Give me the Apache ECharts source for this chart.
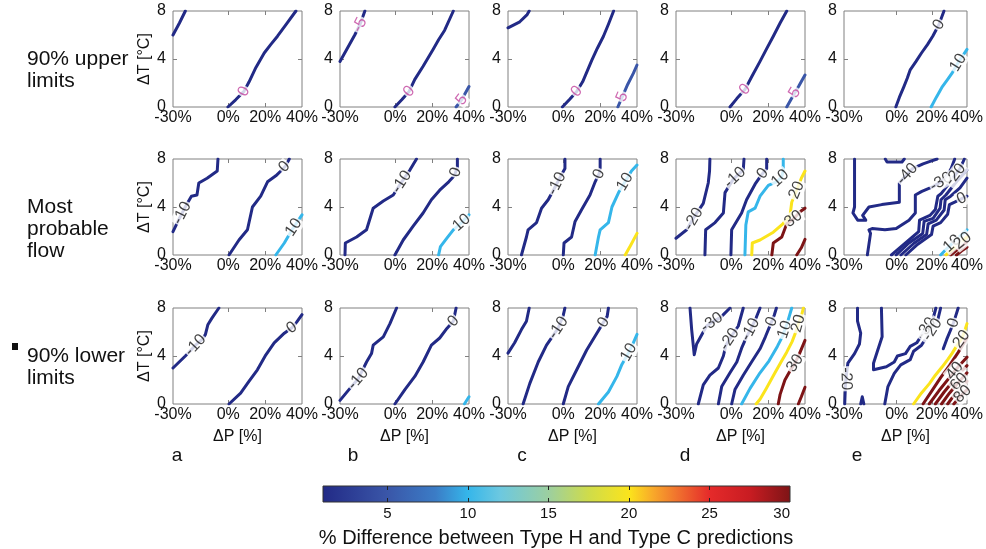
<!DOCTYPE html>
<html><head><meta charset="utf-8">
<script src="https://cdn.jsdelivr.net/npm/echarts@6/dist/echarts.min.js"></script>
<style>html,body{margin:0;padding:0;background:#fff}#c{width:986px;height:549px}</style>
</head><body><div id="c"></div>
<script>
// ---------- data ----------
const dPTicks = [-30, 0, 20, 40];
const dTTicks = [0, 4, 8];
const rowNames = ['90% upper\nlimits', 'Most\nprobable\nflow', '90% lower\nlimits'];
const colLetters = ['a', 'b', 'c', 'd', 'e'];
const cbTicks = [5, 10, 15, 20, 25, 30];
const cbRange = [1, 30];
const cbTitle = '% Difference between Type H and Type C predictions';

// contour lines: [level, [[dP, dT], ...]] ; labels: [text, lineIndex, dP, dT, rotateOverride]
// Row 1: 90% upper limits
const ua = [
  [-5, [[-30,6.0],[-26.5,7.0],[-23.3,8]]],
  [0, [[-0.2,0],[4,0.6],[8.5,1.3],[11.3,2.1],[15,3.3],[19.5,4.5],[23,5.2],[26.7,5.9],[31.5,6.9],[36.7,8]]]
];
const ua_lab = [['0',1,8.5,1.3]];
const ub = [
  [-5, [[-30,3.8],[-26,4.9],[-22,6.0],[-19.2,6.85],[-16.5,8]]],
  [0, [[-0.2,0],[3.5,0.6],[7.5,1.3],[10.6,2.3],[15.1,3.4],[20.5,4.8],[23.5,5.6],[26.8,6.4],[31.5,8]]],
  [5, [[33,0],[36,0.6],[40,1.7]]]
];
const ub_lab = [['-5',0,-19.2,6.85],['0',1,7.5,1.3],['5',2,36,0.6]];
const uc = [
  [-5, [[-30,6.6],[-23.6,7.1],[-19.6,7.7],[-18.5,8]]],
  [0, [[-0.5,0],[3.5,0.65],[7.3,1.3],[10.5,2.1],[15.5,3.9],[18.5,4.9],[21.8,5.9],[24.5,6.9],[27.3,8]]],
  [5, [[29.6,0],[31.6,0.7],[35,1.9],[38,2.8],[40,3.5]]]
];
const uc_lab = [['0',1,7.3,1.3],['5',2,32,0.85]];
const ud = [
  [0, [[-0.7,0],[3,0.7],[7.4,1.45],[11,2.5],[15.6,3.8],[19,4.8],[22.8,5.9],[26.5,7.0],[30.1,8]]],
  [5, [[30.1,0],[33,0.8],[36.5,1.7],[40,2.67]]]
];
const ud_lab = [['0',0,7.4,1.45],['5',1,34.5,1.2]];
const ue = [
  [0, [[-0.5,0],[1.5,0.8],[4.1,1.7],[6,2.4],[7.7,3.1],[11,3.8],[14.1,4.5],[17.5,5.2],[20.5,5.9],[24,6.85],[26.9,8]]],
  [10, [[19.6,0],[22.5,0.8],[26,1.7],[29,2.3],[31.4,2.8],[35,3.7],[40,4.8]]]
];
const ue_lab = [['0',0,24,6.85],['10',1,35,3.7]];

// Row 2: most probable flow
const ma = [
  [-10, [[-30,1.95],[-27,2.9],[-23,4.1],[-20,4.9],[-17,5.0],[-16,6.0],[-11.5,6.4],[-6,7.0],[-5.6,8]]],
  [0, [[0.4,0],[5.8,1.25],[10.4,2.1],[13.1,4.0],[17.6,4.9],[21.3,6.1],[25.8,6.6],[28.5,7.0],[31,7.4],[33.1,8]]],
  [10, [[25.8,0],[30.4,1.0],[35,2.2],[40,3.35]]]
];
const ma_lab = [['-10',0,-25,3.5],['0',1,30.5,7.35],['10',2,35.5,2.3]];
const mb = [
  [-10, [[-27.3,0],[-27.1,1.0],[-21,1.5],[-15.6,2.1],[-12,3.9],[-6.5,4.5],[-1.1,5.0],[3.5,6.1],[8,7.1],[11.5,8]]],
  [0, [[-0.2,0],[4.3,1.25],[9.7,2.4],[15.1,3.5],[19.6,4.6],[24.1,5.4],[29,6.1],[32,6.6],[33.7,7.3],[33.7,8]]],
  [10, [[23.5,0],[24.5,0.7],[28,1.4],[31.5,2.1],[36,2.7],[40,3.35]]]
];
const mb_lab = [['-10',0,3.5,6.1],['0',1,32.8,6.9],['10',2,36,2.7]];
const mc = [
  [-10, [[-22.7,0],[-20,1.5],[-19.1,2.1],[-14.5,2.7],[-11.8,3.9],[-8.2,4.6],[-5,5.5],[-2,6.4],[0.9,7.2],[0.9,8]]],
  [0, [[0,0],[0.4,1.0],[4.5,1.5],[6.4,2.8],[10,3.8],[14.5,5.0],[17.3,6.1],[19.5,6.8],[20,7.3],[20,8]]],
  [10, [[17.3,0],[19.1,1.5],[20,2.1],[24.5,2.7],[26.4,4.0],[30,5.2],[33.5,6.1],[37,7.0],[40,7.5]]],
  [20, [[33.6,0],[36.5,0.8],[40,1.8]]]
];
const mc_lab = [['-10',0,-3.5,5.95],['0',1,19.3,6.75],['10',2,33.5,6.1]];
const md = [
  [-20, [[-30,1.4],[-24.2,2.1],[-20,3.2],[-15.2,4.3],[-12.5,6.0],[-11.8,7.0],[-11.6,8]]],
  [-10, [[-14.3,0],[-13.9,2.1],[-8.8,2.7],[-4.3,3.5],[-3.4,5.2],[1,6.3],[6.5,7.1],[6.9,8]]],
  [0, [[-0.2,0],[0.2,2.1],[5.6,3.5],[8.3,4.6],[12.9,5.9],[16,6.6],[19.2,7.2],[19.2,8]]],
  [10, [[7.4,0],[7.9,2.5],[9.2,3.6],[12.9,3.9],[15.6,4.9],[20.1,5.8],[24.5,6.1],[27.4,6.5],[28.2,7.1],[28.2,8]]],
  [20, [[11.1,0],[11.4,1.0],[15.6,1.25],[22.8,1.9],[28,2.6],[31.9,3.3],[32.8,4.4],[35.5,5.4],[38,6.4],[40,7.0]]],
  [30, [[22,0],[22.8,1.0],[27.4,1.5],[30.1,2.6],[33.7,3.0],[37.3,3.6],[40,3.9]]],
  [40, [[35.5,0],[38,0.6],[40,1.3]]]
];
const md_lab = [['-20',0,-20.5,3.0],['-10',1,2,6.45],['0',2,17,6.8],['10',3,26.5,6.4],['20',4,35.5,5.4],['30',5,33.7,3.0]];
const me = [
  [-40, [[-24,8],[-24,4.0],[-24.9,3.5],[-22.2,2.9],[-17.6,2.9],[-19.4,3.3],[-15.8,4.0],[-8.5,4.2],[1.5,4.4],[1.5,6.0],[6,6.75],[9,7.2],[15,7.6],[19,7.8],[23,8]]],
  [-50, [[-6.5,8],[-5.5,7.75],[3,7.75],[4.3,8]]],
  [-30, [[-16.7,0],[-14.9,1.8],[-15.8,2.1],[-14,2.2],[-6.7,2.1],[-0.3,2.2],[7,2.9],[10.6,3.5],[10.6,5.0],[14.3,5.3],[20.7,5.7],[25.2,6.1],[28,6.5],[31,7.2],[33,8]]],
  [-20, [[-3,0],[5,1.0],[12.5,1.95],[13,2.9],[18.9,3.3],[22,3.8],[23.4,4.9],[25.2,5.1],[31,6.2],[36,7.2],[38.5,8]]],
  [-10, [[-0.3,0],[7,1.0],[14.8,1.8],[15.6,2.8],[20.7,3.05],[24.7,3.9],[25.2,4.6],[28,5.0],[34,6.1],[40,7.1]]],
  [-5, [[2.4,0],[10,1.0],[17,1.7],[17.9,2.6],[22.5,2.9],[27,3.75],[27.6,4.6],[30.7,4.9],[36,5.6],[40,6.4]]],
  [0, [[5.2,0],[12,0.9],[19.8,1.7],[20.7,2.4],[25,2.7],[29,3.4],[30,4.2],[33,4.4],[40,4.9]]],
  [10, [[25,0],[29,0.6],[34,1.3],[40,2.1]]],
  [20, [[28,0],[32,0.5],[36,1.0],[40,1.5]]],
  [30, [[30.7,0],[35,0.5],[40,1.1]]],
  [40, [[34,0],[37,0.35],[40,0.65]]]
];
const me_lab = [['-40',0,6,6.75],['-30',2,25.2,6.1],['-20',3,33.5,6.7],['0',6,37,4.69],['10',7,31.5,0.95],['20',8,37.5,1.19]];

// Row 3: 90% lower limits
const la = [
  [-10, [[-30,3.0],[-23.3,4.0],[-17.8,4.9],[-14,5.4],[-12.4,5.8],[-11.1,6.6],[-8.7,7.2],[-5.1,8]]],
  [0, [[0.4,0],[6.7,0.9],[11.3,1.9],[15.8,2.85],[20.4,4.1],[24.9,5.1],[30.4,5.9],[34.5,6.35],[37,6.8],[40,7.45]]]
];
const la_lab = [['-10',0,-17.8,4.9],['0',1,34.5,6.35]];
const lb = [
  [-10, [[-30,0.3],[-24.6,1.3],[-20.1,2.1],[-15.6,3.5],[-12.9,4.2],[-12,4.9],[-6.5,5.6],[-2.9,6.7],[0.7,8]]],
  [0, [[-0.2,0],[5.2,1.2],[10.6,2.3],[15.1,3.5],[19.6,4.9],[24.1,5.5],[28,6.3],[31.5,6.9],[33,8]]],
  [10, [[37.5,0],[40,0.6]]]
];
const lb_lab = [['-10',0,-20.1,2.1],['0',1,31.5,6.9]];
const lc = [
  [-20, [[-30,4.24],[-26.4,5.1],[-22.7,6.2],[-20,6.9],[-18.5,8]]],
  [-10, [[-21.8,0],[-18.2,1.7],[-13.6,3.5],[-9.1,4.9],[-6,5.6],[-2.7,6.35],[0,7.4],[0.9,8]]],
  [0, [[0,0],[2.7,1.45],[7.3,2.85],[12.7,4.5],[18.2,5.9],[21.8,6.8],[23.8,7.3],[24.5,8]]],
  [10, [[19.1,0],[24.5,1.0],[29.1,2.3],[31.8,3.3],[35.5,4.3],[38,5.1],[40,5.8]]]
];
const lc_lab = [['-10',1,-2.7,6.35],['0',2,21.8,6.8],['10',3,35.5,4.3]];
const ld = [
  [-30, [[-22.4,8],[-21.5,6.2],[-20.1,4.1],[-18.8,5.0],[-13.4,6.5],[-10.6,6.8],[-6,7.2],[-4.3,7.45],[-0.7,8]]],
  [-20, [[-17.9,0],[-15.2,1.6],[-11.6,2.4],[-7,3.0],[-4.3,4.0],[-2.9,4.9],[-1,5.4],[3.8,6.5],[6.5,8]]],
  [-10, [[-7,0],[-5.2,1.45],[-0.7,2.6],[3,3.5],[5.6,4.65],[8.3,5.6],[10.4,6.2],[13,7.0],[15.6,8]]],
  [0, [[0.2,0],[2,1.2],[6.5,2.4],[11,3.5],[15.6,4.6],[18.5,5.6],[21.9,6.86],[23.3,7.4],[24.5,8]]],
  [10, [[5.6,0],[10.2,1.3],[15.6,2.6],[20.5,3.6],[25,4.8],[28,5.7],[29.1,6.2],[30.5,6.8],[32.8,8]]],
  [20, [[13.5,0],[15.6,0.4],[19,1.3],[23.7,2.6],[27,3.5],[30,4.3],[33,5.2],[35.5,6.2],[36.4,6.7],[38,7.3],[39.1,8]]],
  [30, [[25.5,0],[26.5,0.8],[29.1,2.0],[32,2.8],[34.6,3.4],[37,4.2],[40,5.3]]],
  [40, [[36.4,0],[38,0.6],[40,1.4]]]
];
const ld_lab = [['-30',0,-10.6,6.8],['-20',1,-1,5.4],['-10',2,10.4,6.2],['0',3,21.9,6.86],['10',4,29.1,6.2],['20',5,36.4,6.7],['30',6,34.6,3.4]];
const le = [
  [-20, [[-22.3,8],[-22.3,6.9],[-20.5,5.9],[-21.2,5.0],[-24,4.2],[-27.8,3.4],[-28.5,2.6],[-29.2,1.5],[-29.6,0]]],
  [-30, [[-20.5,0],[-19.6,0.6],[-18.7,0]]],
  [-30, [[-8.7,8],[-8.3,5.6],[-11,4.4],[-13.2,3.4],[-13.2,2.85],[-5.9,3.1],[-1.4,3.5],[0.4,4.0],[5,4.2],[7.7,4.8],[11.4,5.1],[15,5.9],[16.8,6.3],[20.5,7.0],[22.3,8]]],
  [-20, [[-6.8,0],[-5,1.45],[-1.4,2.55],[2.3,3.26],[7.7,3.7],[9.6,4.4],[14.1,4.9],[16.8,5.5],[19.6,6.05],[23.2,6.9],[25,8]]],
  [0, [[35,8],[33.5,7.3],[32.3,6.75],[30.5,6.1],[28.5,5.4],[26.5,4.6]]],
  [20, [[9.6,0],[14,0.9],[18.6,1.7],[22,2.4],[25.9,3.1],[29,3.7],[31.4,4.2],[34,4.8],[36.9,5.4],[38.5,6.0],[40,6.7]]],
  [30, [[15,0],[20,1.1],[25,2.2],[30,3.2],[35,4.3],[40,5.5]]],
  [40, [[18.5,0],[24,1.1],[30,2.2],[35,3.1],[40,3.9]]],
  [50, [[22,0],[27,1.0],[32,1.9],[36,2.6],[40,3.2]]],
  [60, [[25.5,0],[30,0.9],[34,1.6],[37,2.1],[40,2.6]]],
  [70, [[29,0],[33,0.8],[37,1.4],[40,1.9]]],
  [80, [[32.5,0],[36,0.6],[40,1.2]]]
];
const le_lab = [['-20',0,-28.8,2.1,-88],['-30',2,16.8,6.3],['-20',3,20.3,6.2],['0',4,32.3,6.75],['20',5,36.9,5.4],['40',7,33,2.75],['60',9,35.5,1.85],['80',11,37.5,0.83]];

const panelLines = [[ua,ub,uc,ud,ue],[ma,mb,mc,md,me],[la,lb,lc,ld,le]];
const panelLabels = [[ua_lab,ub_lab,uc_lab,ud_lab,ue_lab],[ma_lab,mb_lab,mc_lab,md_lab,me_lab],[la_lab,lb_lab,lc_lab,ld_lab,le_lab]];

// ---------- style / layout ----------
const FONT = 'Liberation Sans, Arial, sans-serif';
const GL = [173, 340, 508, 676, 844], GT = [11, 159, 308], GW = 129, GH = 96;
const letterDx = [4, 13, 14, 9, 13];
const cmapStops = [[1,'#222a86'],[5,'#3a56a8'],[8,'#3b7cc6'],[10,'#35b6ea'],[12,'#6cc8e0'],[15,'#9ccfa0'],[17.5,'#cfdc4a'],[20,'#fbe41c'],[21.5,'#f8a82a'],[23,'#f0712e'],[25,'#e52a2a'],[27.5,'#c81c22'],[30,'#7d1416']];
const magenta = '#c2449e';

function hex2rgb(h){return [parseInt(h.substr(1,2),16),parseInt(h.substr(3,2),16),parseInt(h.substr(5,2),16)];}
function levelColor(v){
  v = Math.max(cbRange[0], Math.min(cbRange[1], v));
  for (let i=0;i<cmapStops.length-1;i++){
    const [a,ca]=cmapStops[i],[b,cb]=cmapStops[i+1];
    if (v>=a && v<=b){
      const t=(v-a)/(b-a), A=hex2rgb(ca), B=hex2rgb(cb);
      return 'rgb('+A.map((x,k)=>Math.round(x+(B[k]-x)*t)).join(',')+')';
    }
  }
  return cmapStops[cmapStops.length-1][1];
}
function labelAngle(pts, x, y){
  const sx=GW/70, sy=GH/8, px=x*sx, py=y*sy;
  let best=[1,0], bd=1e18;
  for (let i=0;i<pts.length-1;i++){
    const ax=pts[i][0]*sx, ay=pts[i][1]*sy, bx=pts[i+1][0]*sx, by=pts[i+1][1]*sy;
    const dx=bx-ax, dy=by-ay, l2=dx*dx+dy*dy||1;
    let t=((px-ax)*dx+(py-ay)*dy)/l2; t=Math.max(0,Math.min(1,t));
    const qx=ax+t*dx-px, qy=ay+t*dy-py, d=qx*qx+qy*qy;
    if (d<bd){bd=d; best=[dx,dy];}
  }
  let a=Math.atan2(best[1],best[0])*180/Math.PI;
  if (a>90) a-=180; if (a<=-90) a+=180;
  return a;
}

const grids=[], xAxes=[], yAxes=[], series=[], graphics=[];
const axisGray = '#808080';
let gi = 0;
for (let r=0;r<3;r++){
  for (let c=0;c<5;c++){
    grids.push({left:GL[c], top:GT[r], width:GW, height:GH, show:true, borderColor:axisGray, borderWidth:1, backgroundColor:'#fff'});
    xAxes.push({gridIndex:gi, type:'value', min:-30, max:40, position:'bottom',
      axisLine:{show:false, onZero:false}, splitLine:{show:false},
      axisTick:{show:true, inside:true, length:4, customValues:[0,20], lineStyle:{color:axisGray}},
      axisLabel:{customValues:dPTicks, formatter:'{value}%', color:'#111', fontSize:16, fontFamily:FONT, margin:3},
      name: r===2 ? 'ΔP [%]' : '', nameLocation:'middle', nameGap:25,
      nameTextStyle:{color:'#111', fontSize:16, fontFamily:FONT}});
    xAxes.push({gridIndex:gi, type:'value', min:-30, max:40, position:'top',
      axisLine:{show:false, onZero:false}, splitLine:{show:false}, axisLabel:{show:false},
      axisTick:{show:true, inside:true, length:4, customValues:[0,20], lineStyle:{color:axisGray}}});
    yAxes.push({gridIndex:gi, type:'value', min:0, max:8, interval:4, position:'left',
      axisLine:{show:false, onZero:false}, splitLine:{show:false},
      axisTick:{show:true, inside:true, length:4, customValues:[4], lineStyle:{color:axisGray}},
      axisLabel:{customValues:dTTicks, color:'#111', fontSize:16, fontFamily:FONT, margin:7},
      name: c===0 ? 'ΔT [°C]' : '', nameLocation:'middle', nameGap:20, nameRotate:90,
      nameTextStyle:{color:'#111', fontSize:16, fontFamily:FONT}});
    yAxes.push({gridIndex:gi, type:'value', min:0, max:8, interval:4, position:'right',
      axisLine:{show:false, onZero:false}, splitLine:{show:false}, axisLabel:{show:false},
      axisTick:{show:true, inside:true, length:4, customValues:[4], lineStyle:{color:axisGray}}});
    const lines = panelLines[r][c];
    lines.forEach(([lv, pts]) => {
      series.push({type:'line', xAxisIndex:2*gi, yAxisIndex:2*gi, data:pts, showSymbol:false, symbol:'none',
        silent:true, z:2, clip:true, lineStyle:{color:levelColor(lv), width:3, join:'round', cap:'round'}});
    });
    const labCol = (r===0 && c<4) ? magenta : '#111';
    series.push({type:'scatter', xAxisIndex:2*gi, yAxisIndex:2*gi, z:5, silent:true, symbolSize:1,
      itemStyle:{color:'rgba(0,0,0,0)'},
      label:{show:true, position:'inside', color:labCol, fontSize:16, fontFamily:FONT,
        backgroundColor:'#fff', padding:[0,1], lineHeight:15},
      data: panelLabels[r][c].map(([txt, li, x, y, rot]) => ({
        value:[x,y],
        label:{formatter:txt, rotate: rot!==undefined ? rot : labelAngle(lines[li][1], x, y)}
      }))});
    gi++;
  }
}

// colorbar
const cbStops = cmapStops.map(([v,col]) => ({offset:(v-cbRange[0])/(cbRange[1]-cbRange[0]), color:col}));
grids.push({left:323, top:486, width:467, height:16, show:true, borderColor:'#333', borderWidth:1,
  backgroundColor:new echarts.graphic.LinearGradient(0,0,1,0,cbStops)});
xAxes.push({gridIndex:15, type:'value', min:cbRange[0], max:cbRange[1], position:'bottom',
  axisLine:{show:false, onZero:false}, splitLine:{show:false},
  axisTick:{show:true, inside:true, length:4, customValues:cbTicks.slice(0,5), lineStyle:{color:'#222'}},
  axisLabel:{customValues:cbTicks, color:'#111', fontSize:15, fontFamily:FONT, margin:4, alignMaxLabel:'right'}});
xAxes.push({gridIndex:15, type:'value', min:cbRange[0], max:cbRange[1], position:'top',
  axisLine:{show:false, onZero:false}, splitLine:{show:false}, axisLabel:{show:false},
  axisTick:{show:true, inside:true, length:4, customValues:cbTicks.slice(0,5), lineStyle:{color:'#222'}}});
yAxes.push({gridIndex:15, type:'value', min:0, max:1, show:false});

// texts
rowNames.forEach((t, r) => {
  graphics.push({type:'text', left:27, top:GT[r]+GH/2-11, style:{text:t, font:'21px '+FONT, lineHeight:22, fill:'#111'}});
});
graphics.push({type:'rect', shape:{x:12, y:343, width:6, height:7}, style:{fill:'#111'}});
colLetters.forEach((t, c) => {
  graphics.push({type:'text', x:GL[c]+letterDx[c], y:456, style:{text:t, font:'19px '+FONT, fill:'#111', align:'center', verticalAlign:'middle'}});
});
graphics.push({type:'text', x:556, y:538, style:{text:cbTitle, font:'20px '+FONT, fill:'#111', align:'center', verticalAlign:'middle'}});

const chart = echarts.init(document.getElementById('c'), null, {renderer:'canvas'});
chart.setOption({
  animation:false, backgroundColor:'#fff',
  grid:grids, xAxis:xAxes, yAxis:yAxes, series:series, graphic:graphics
});
</script></body></html>
